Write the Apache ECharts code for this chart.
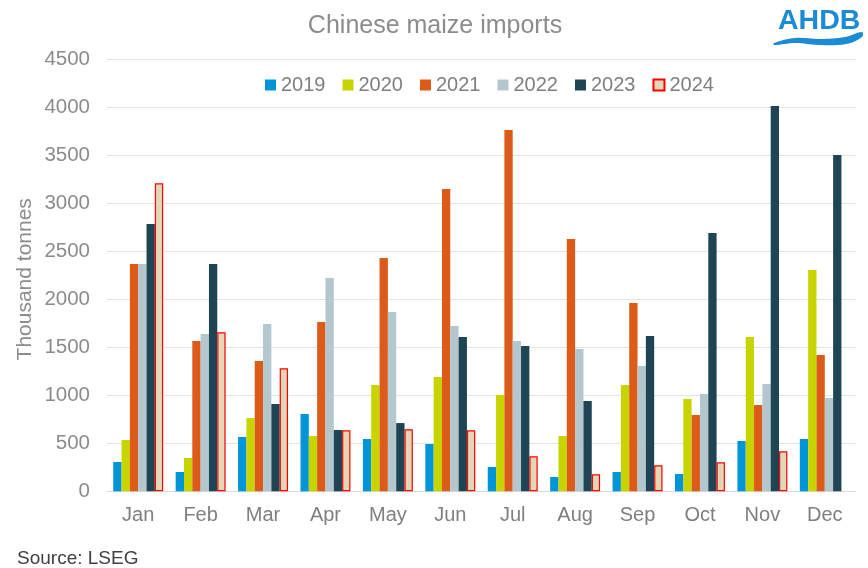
<!DOCTYPE html>
<html>
<head>
<meta charset="utf-8">
<script src="https://cdn.jsdelivr.net/npm/echarts@6/dist/echarts.min.js"></script>
<style>html,body{margin:0;padding:0;background:#fff}#c{width:868px;height:568px}</style>
</head>
<body>
<div id="c"></div>
<script>
var months = ['Jan','Feb','Mar','Apr','May','Jun','Jul','Aug','Sep','Oct','Nov','Dec'];
var years = ['2019','2020','2021','2022','2023','2024'];
var v2019 = [305, 201, 566, 805, 545, 493, 253, 149, 201, 180, 524, 545];
var v2020 = [534, 347, 763, 576, 1107, 1191, 1003, 576, 1107, 961, 1607, 2305];
var v2021 = [2368, 1566, 1357, 1764, 2430, 3149, 3764, 2628, 1961, 795, 899, 1420];
var v2022 = [2368, 1638, 1743, 2222, 1868, 1722, 1566, 1482, 1305, 1013, 1118, 972];
var v2023 = [2784, 2368, 909, 639, 711, 1607, 1514, 941, 1618, 2691, 4014, 3503];
var v2024 = [3208, 1656, 1281, 635, 646, 635, 365, 177, 271, 302, 417, null];
var yTicks = [0, 500, 1000, 1500, 2000, 2500, 3000, 3500, 4000, 4500];

var colors = ['#0095D9', '#C8D400', '#DC5B19', '#B4C7CF', '#1F4555', '#E2D8B5'];
var allData = [v2019, v2020, v2021, v2022, v2023, v2024];
var FF = 'Liberation Sans, Arial, sans-serif';

var chart = echarts.init(document.getElementById('c'), null, {renderer: 'canvas'});
var series = years.map(function (y, i) {
  var s = {
    name: y,
    type: 'bar',
    data: allData[i],
    barGap: '0%',
    barCategoryGap: '20%',
    itemStyle: {color: colors[i]}
  };
  if (i === 5) {
    s.itemStyle = {color: colors[i], borderColor: '#FF0000', borderWidth: 1.2};
  }
  return s;
});

chart.setOption({
  animation: false,
  textStyle: {fontFamily: FF},
  title: {
    text: 'Chinese maize imports',
    left: 430, top: 9, textAlign: 'center',
    textStyle: {fontSize: 25, fontWeight: 'normal', color: '#8C8C8C', fontFamily: FF}
  },
  legend: {
    data: years,
    left: 260, top: 70,
    icon: 'rect', itemWidth: 11, itemHeight: 11, itemGap: 17,
    textStyle: {fontSize: 20, color: '#7F7F7F', fontFamily: FF}
  },
  grid: {left: 107, right: 12, top: 59.3, bottom: 568 - 491.3, containLabel: false},
  xAxis: {
    type: 'category',
    data: months,
    axisLine: {lineStyle: {color: '#D9D9D9', width: 1}},
    axisTick: {show: false},
    axisLabel: {fontSize: 20, color: '#7F7F7F', margin: 14, fontFamily: FF}
  },
  yAxis: {
    type: 'value',
    min: yTicks[0], max: yTicks[yTicks.length - 1], interval: 500,
    name: 'Thousand tonnes',
    nameLocation: 'middle', nameGap: 71, nameRotate: 90, nameMoveOverlap: false,
    nameTextStyle: {fontSize: 21, color: '#8C8C8C', fontFamily: FF, padding: [0, 8, 0, 0]},
    axisLine: {show: false},
    axisTick: {show: false},
    splitLine: {lineStyle: {color: '#E3E3E3', width: 1}},
    axisLabel: {fontSize: 20.5, color: '#8C8C8C', margin: 17, fontFamily: FF,
      formatter: function (v) { return String(v); }}
  },
  graphic: [
    {type: 'text', x: 17, y: 559, style: {text: 'Source: LSEG', fontSize: 19, fill: '#404040', fontFamily: FF, verticalAlign: 'middle'}},
    {type: 'text', x: 778, y: 21, style: {text: 'AHDB', fontSize: 28.5, fontWeight: 'bold', fill: '#1A8BD4', fontFamily: FF, verticalAlign: 'middle'}},
    {type: 'polygon', shape: {smooth: 0.4, points: [[774, 43], [795, 38], [820, 39], [845, 37], [862, 32], [862, 37], [846, 44], [818, 45], [796, 43], [774, 45]]}, style: {fill: '#1A8BD4'}}
  ],
  series: series
});
</script>
</body>
</html>
